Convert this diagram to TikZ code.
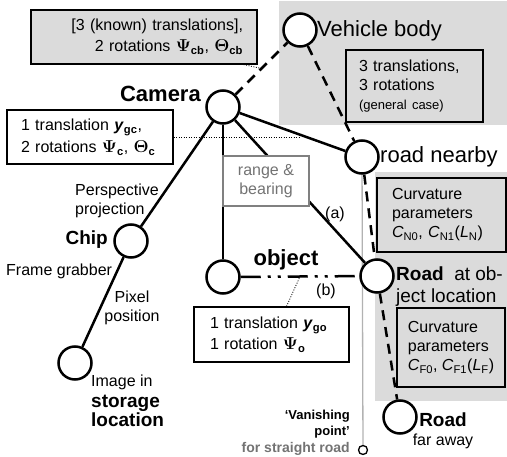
\documentclass[tikz,border=0pt]{standalone}
\usepackage{fontspec}
\setmainfont{Liberation Sans}
\usepackage{amsmath,bm}
\usepackage{tikz}
\usetikzlibrary{calc}
\pgfdeclarelayer{back}
\pgfsetlayers{back,main}
\definecolor{panel}{gray}{0.86}
\newcommand{\hugefnt}{\fontsize{22}{26}\selectfont}
\newcommand{\midfnt}{\fontsize{19}{22}\selectfont}
\newcommand{\txtfnt}{\fontsize{16}{19}\selectfont}
\newcommand{\smlfnt}{\fontsize{13}{16}\selectfont}

\begin{document}
\begin{tikzpicture}[x=1pt, y=-1pt,
    knot/.style={draw, circle, line width=2.5pt, fill=white, minimum size=33pt, inner sep=0pt},
    box/.style={draw, line width=1.2pt, inner ysep=0pt, font=\txtfnt},
    note/.style={inner sep=0pt, font=\txtfnt},
    link/.style={line width=2.5pt},
    dlink/.style={line width=2.5pt, dash pattern=on 10pt off 7pt},
    ddlink/.style={line width=2.5pt, dash pattern=on 20pt off 7pt on 3pt off 7pt on 3pt off 7pt},
    hint/.style={line width=0.8pt, dash pattern=on 1pt off 1.5pt},
  ]
    \useasboundingbox (0,0) rectangle (507,457);

    \node[knot] (cam) at (223,107) {};
    \node[knot] (veh) at (300,30) {};
    \node[knot] (near) at (362,157) {};
    \node[knot] (chip) at (131,241) {};
    \node[knot] (obj) at (223,277) {};
    \node[knot] (rat) at (377,276) {};
    \node[knot] (far) at (400,417) {};
    \node[knot] (img) at (75,363) {};
    \node[draw, circle, line width=1.3pt, fill=white, minimum size=9pt, inner sep=0pt] (vp) at (363,450) {};

    \node[note, font=\hugefnt\bfseries, anchor=east] (camlbl) at (201,94) {Camera};
    \node[note, font=\hugefnt, anchor=west] (vehlbl) at (317,31) {Vehicle body};
    \node[note, font=\hugefnt, anchor=west] (nearlbl) at (380,157) {road nearby};
    \node[note, font=\midfnt\bfseries, anchor=east] (chiplbl) at (108,240) {Chip};
    \node[note, font=\hugefnt\bfseries] (objlbl) at (286,260) {object};
    \node[note, font=\midfnt, anchor=west, align=left] (ratlbl) at (396,287) {\textbf{Road}\ \ at ob-\\ject location};
    \node[note, align=center] (farlbl) at (443,431) {{\midfnt\bfseries Road}\\far away};
    \node[note, anchor=west, align=left] (imglbl) at (91,401) {Image in\\[2pt]{\midfnt\bfseries storage}\\{\midfnt\bfseries location}};
    \node[note, anchor=west, align=left] (persp) at (75,201) {Perspective\\projection};
    \node[note, anchor=west] (grab) at (6,271) {Frame grabber};
    \node[note, align=center] (pixel) at (132,308) {Pixel\\position};
    \node[note] (alab) at (335,214) {(a)};
    \node[note] (blab) at (326,291) {(b)};
    \node[note, font=\smlfnt\bfseries, anchor=east, align=right] (vplbl) at (350,433) {`Vanishing\\point'\\[1pt]{\fontsize{14}{16}\selectfont\color{black!55}for straight road}};

    \node[box, fill=panel, minimum width=226, minimum height=54, inner xsep=14pt, text width=198pt, align=right] (tbox) at (144,37)
      {[3 (known) translations],\\[2pt] 2 rotations $\bm{\Psi}_{\mathbf{cb}}$, $\bm{\Theta}_{\mathbf{cb}}$};
    \node[box, fill=white, minimum width=166, minimum height=54, inner xsep=14pt, text width=138pt, align=left] (lbox) at (90,137)
      {1 translation \textbf{\textit{y}}\textsubscript{\textbf{gc}},\\[3pt] 2 rotations $\bm{\Psi}_{\mathbf{c}}$, $\bm{\Theta}_{\mathbf{c}}$};
    \node[box, fill=panel, minimum width=137, minimum height=72, inner xsep=13pt, text width=111pt, align=left] (vbox) at (414.5,86)
      {3 translations,\\3 rotations\\{\smlfnt (general case)}};
    \node[box, draw=black!50, text=black!55, fill=white, minimum width=86, minimum height=50, align=center] (rbox) at (266,181)
      {range \&\\bearing};
    \node[box, fill=panel, minimum width=129, minimum height=74, inner xsep=15pt, text width=99pt, align=left] (nbox) at (441.5,215)
      {Curvature\\parameters\\\textit{C}\textsubscript{N0}, \textit{C}\textsubscript{N1}(\textit{L}\textsubscript{N})};
    \node[box, fill=panel, minimum width=108, minimum height=79, inner xsep=0pt, align=left] (fbox) at (451,347.5)
      {Curvature\\parameters\\\textit{C}\textsubscript{F0}, \textit{C}\textsubscript{F1}(\textit{L}\textsubscript{F})};
    \node[box, fill=white, minimum width=155, minimum height=55, inner xsep=16pt, text width=123pt, align=left] (bbox) at (271.5,334.5)
      {1 translation \textbf{\textit{y}}\textsubscript{\textbf{go}}\\[2pt] 1 rotation $\bm{\Psi}_{\mathbf{o}}$};

    \coordinate (camveh) at ($(cam)!0.5!(veh)$);
    \coordinate (camnear) at ($(cam)!0.56!(near)$);
    \coordinate (objrat) at ($(obj)!0.5!(rat)$);

    \begin{pgfonlayer}{back}
      \fill[panel] (279,1) rectangle (507,125);
      \fill[panel] (375,172) rectangle (507,401);
      \draw[line width=1.3pt, black!30] (near) -- (vp);
      \draw[link] (cam) -- (chip) -- (img);
      \draw[link] (cam) -- (obj);
      \draw[link] (cam) -- (rat);
      \draw[link] (cam) -- (near);
      \draw[dlink] (cam) -- (veh);
      \draw[dlink] (veh) -- (near);
      \draw[dlink] (near) -- (rat);
      \draw[dlink] (rat) -- (far);
      \draw[ddlink] (obj) -- (rat);
      \draw[hint] ([xshift=-14pt]tbox.south east) -- (camveh);
      \draw[hint] (lbox.east) -- (lbox.east -| camnear);
      \draw[hint] ([xshift=15pt]bbox.north) -- (objrat);
    \end{pgfonlayer}
  \end{tikzpicture}
\end{document}
